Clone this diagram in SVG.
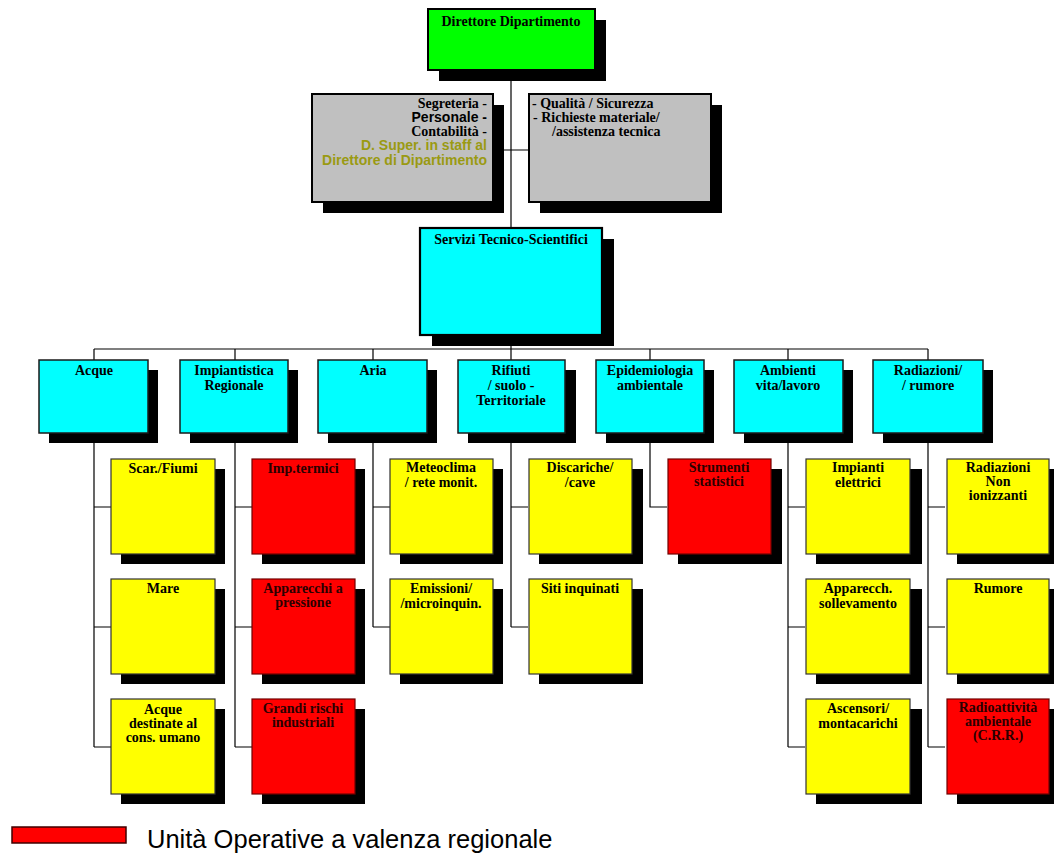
<svg xmlns="http://www.w3.org/2000/svg" width="1054" height="854" viewBox="0 0 1054 854">
  <style>
    .sh { fill: #000; }
    .gr { fill: #00ff00; stroke: #000; stroke-width: 2; }
    .gy { fill: #c0c0c0; stroke: #000; stroke-width: 2; }
    .cy { fill: #00ffff; stroke: #1a1a1a; stroke-width: 1.5; }
    .cyb { fill: #00ffff; stroke: #000; stroke-width: 2.2; }
    .ye { fill: #ffff00; stroke: #333; stroke-width: 1.2; }
    .rd { fill: #ff0000; stroke: #700000; stroke-width: 1.2; }
    .ln { stroke: #000; stroke-width: 1.2; fill: none; }
    .t { font-family: "Liberation Serif", "Times New Roman", serif; font-weight: bold; font-size: 14px; text-anchor: middle; fill: #000; }
    .tr { fill: #2a0000; }
    .s { font-family: "Liberation Sans", Arial, sans-serif; font-weight: bold; font-size: 14px; }
    .ol { fill: #9a9a12; }
    .lg { font-family: "Liberation Sans", Arial, sans-serif; font-size: 25.5px; fill: #000; }
  </style>

  <!-- connectors -->
  <g id="connectors">
    <line class="ln" x1="511" y1="70" x2="511" y2="349"/>
    <line class="ln" x1="493" y1="150" x2="529" y2="150"/>
    <line class="ln" x1="94" y1="349" x2="928" y2="349"/>
    <path class="ln" d="M94 349V360M235 349V360M373 349V360M511 349V360M650 349V360M788 349V360M928 349V360"/>
    <!-- Acque -->
    <path class="ln" d="M94 433V747M94 507H111M94 627H111M94 747H111"/>
    <!-- Impiantistica -->
    <path class="ln" d="M235 433V747M235 507H252M235 627H252M235 747H252"/>
    <!-- Aria -->
    <path class="ln" d="M373 433V627M373 507H390M373 627H390"/>
    <!-- Rifiuti -->
    <path class="ln" d="M511 433V627M511 507H528M511 627H528"/>
    <!-- Epidemiologia -->
    <path class="ln" d="M650 433V507H667"/>
    <!-- Ambienti -->
    <path class="ln" d="M788 433V747M788 507H805M788 627H805M788 747H805"/>
    <!-- Radiazioni -->
    <path class="ln" d="M928 433V747M928 507H945M928 627H945M928 747H945"/>
  </g>

  <!-- top level -->
  <g id="direttore">
    <rect class="sh" x="439" y="20" width="167" height="61"/>
    <rect class="gr" x="428" y="9" width="167" height="61"/>
    <text class="t" x="511" y="26">Direttore Dipartimento</text>
  </g>

  <g id="staff">
    <rect class="sh" x="323" y="105" width="181" height="108"/>
    <rect class="gy" x="312" y="94" width="181" height="108"/>
    <text class="t" style="text-anchor:end" x="487" y="108">Segreteria -</text>
    <text class="t s" style="text-anchor:end" x="487" y="122">Personale -</text>
    <text class="t" style="text-anchor:end" x="487" y="136">Contabilità -</text>
    <text class="t s ol" style="text-anchor:end" x="487" y="150">D. Super. in staff al</text>
    <text class="t s ol" style="text-anchor:end" x="487" y="165">Direttore di Dipartimento</text>
  </g>

  <g id="qualita">
    <rect class="sh" x="540" y="105" width="182" height="108"/>
    <rect class="gy" x="529" y="94" width="182" height="108"/>
    <text class="t" style="text-anchor:start" x="532" y="108">- Qualità / Sicurezza</text>
    <text class="t" style="text-anchor:start" x="533" y="122">- Richieste materiale/</text>
    <text class="t" style="text-anchor:start" x="552" y="136">/assistenza tecnica</text>
  </g>

  <g id="servizi">
    <rect class="sh" x="432" y="239" width="182" height="107"/>
    <rect class="cyb" x="420" y="228" width="182" height="107"/>
    <text class="t" x="511" y="244">Servizi Tecnico-Scientifici</text>
  </g>

  <!-- area headers -->
  <g id="acque">
    <rect class="sh" x="49" y="370" width="109" height="73"/>
    <rect class="cy" x="39" y="360" width="109" height="73"/>
    <text class="t" x="94" y="375">Acque</text>
  </g>
  <g id="impiantistica">
    <rect class="sh" x="190" y="370" width="108" height="73"/>
    <rect class="cy" x="180" y="360" width="108" height="73"/>
    <text class="t" x="234" y="375"><tspan x="234">Impiantistica</tspan><tspan x="234" dy="15">Regionale</tspan></text>
  </g>
  <g id="aria">
    <rect class="sh" x="328" y="370" width="109" height="73"/>
    <rect class="cy" x="318" y="360" width="109" height="73"/>
    <text class="t" x="373" y="375">Aria</text>
  </g>
  <g id="rifiuti">
    <rect class="sh" x="468" y="370" width="108" height="73"/>
    <rect class="cy" x="458" y="360" width="107" height="73"/>
    <text class="t" x="511" y="375"><tspan x="511">Rifiuti</tspan><tspan x="511" dy="15">/ suolo -</tspan><tspan x="511" dy="15">Territoriale</tspan></text>
  </g>
  <g id="epidemiologia">
    <rect class="sh" x="606" y="370" width="108" height="73"/>
    <rect class="cy" x="596" y="360" width="108" height="73"/>
    <text class="t" x="650" y="375"><tspan x="650">Epidemiologia</tspan><tspan x="650" dy="15">ambientale</tspan></text>
  </g>
  <g id="ambienti">
    <rect class="sh" x="744" y="370" width="109" height="73"/>
    <rect class="cy" x="734" y="360" width="109" height="73"/>
    <text class="t" x="788" y="375"><tspan x="788">Ambienti</tspan><tspan x="788" dy="15">vita/lavoro</tspan></text>
  </g>
  <g id="radiazioni">
    <rect class="sh" x="883" y="370" width="110" height="73"/>
    <rect class="cy" x="873" y="360" width="110" height="73"/>
    <text class="t" x="928" y="375"><tspan x="928">Radiazioni/</tspan><tspan x="928" dy="15">/ rumore</tspan></text>
  </g>

  <!-- Acque units -->
  <g id="scar-fiumi">
    <rect class="sh" x="121" y="469" width="104" height="95"/>
    <rect class="ye" x="111" y="459" width="104" height="95"/>
    <text class="t" x="163" y="473">Scar./Fiumi</text>
  </g>
  <g id="mare">
    <rect class="sh" x="121" y="589" width="104" height="95"/>
    <rect class="ye" x="111" y="579" width="104" height="95"/>
    <text class="t" x="163" y="593">Mare</text>
  </g>
  <g id="acque-consumo">
    <rect class="sh" x="121" y="709" width="104" height="95"/>
    <rect class="ye" x="111" y="699" width="104" height="95"/>
    <text class="t" x="163" y="714"><tspan x="163">Acque</tspan><tspan x="163" dy="14">destinate al</tspan><tspan x="163" dy="14">cons. umano</tspan></text>
  </g>

  <!-- Impiantistica units -->
  <g id="imp-termici">
    <rect class="sh" x="262" y="469" width="103" height="95"/>
    <rect class="rd" x="252" y="459" width="103" height="95"/>
    <text class="t tr" x="303" y="473">Imp.termici</text>
  </g>
  <g id="apparecchi-pressione">
    <rect class="sh" x="262" y="589" width="103" height="95"/>
    <rect class="rd" x="252" y="579" width="103" height="95"/>
    <text class="t tr" x="303" y="593"><tspan x="303">Apparecchi a</tspan><tspan x="303" dy="14">pressione</tspan></text>
  </g>
  <g id="grandi-rischi">
    <rect class="sh" x="262" y="709" width="103" height="95"/>
    <rect class="rd" x="252" y="699" width="103" height="95"/>
    <text class="t tr" x="303" y="713"><tspan x="303">Grandi rischi</tspan><tspan x="303" dy="14">industriali</tspan></text>
  </g>

  <!-- Aria units -->
  <g id="meteoclima">
    <rect class="sh" x="400" y="469" width="103" height="95"/>
    <rect class="ye" x="390" y="459" width="103" height="95"/>
    <text class="t" x="441" y="472"><tspan x="441">Meteoclima</tspan><tspan x="441" dy="15">/ rete monit.</tspan></text>
  </g>
  <g id="emissioni">
    <rect class="sh" x="400" y="589" width="103" height="95"/>
    <rect class="ye" x="390" y="579" width="103" height="95"/>
    <text class="t" x="441" y="593"><tspan x="441">Emissioni/</tspan><tspan x="441" dy="15">/microinquin.</tspan></text>
  </g>

  <!-- Rifiuti units -->
  <g id="discariche">
    <rect class="sh" x="539" y="469" width="104" height="95"/>
    <rect class="ye" x="529" y="459" width="103" height="95"/>
    <text class="t" x="580" y="472"><tspan x="580">Discariche/</tspan><tspan x="580" dy="15">/cave</tspan></text>
  </g>
  <g id="siti-inquinati">
    <rect class="sh" x="539" y="589" width="104" height="95"/>
    <rect class="ye" x="529" y="579" width="103" height="95"/>
    <text class="t" x="580" y="593">Siti inquinati</text>
  </g>

  <!-- Epidemiologia units -->
  <g id="strumenti-statistici">
    <rect class="sh" x="678" y="469" width="104" height="95"/>
    <rect class="rd" x="668" y="459" width="103" height="95"/>
    <text class="t tr" x="719" y="472"><tspan x="719">Strumenti</tspan><tspan x="719" dy="14">statistici</tspan></text>
  </g>

  <!-- Ambienti units -->
  <g id="impianti-elettrici">
    <rect class="sh" x="816" y="469" width="106" height="95"/>
    <rect class="ye" x="806" y="459" width="104" height="95"/>
    <text class="t" x="858" y="472"><tspan x="858">Impianti</tspan><tspan x="858" dy="15">elettrici</tspan></text>
  </g>
  <g id="apparecch-sollevamento">
    <rect class="sh" x="816" y="589" width="106" height="95"/>
    <rect class="ye" x="806" y="579" width="104" height="95"/>
    <text class="t" x="858" y="593"><tspan x="858">Apparecch.</tspan><tspan x="858" dy="15">sollevamento</tspan></text>
  </g>
  <g id="ascensori">
    <rect class="sh" x="816" y="709" width="106" height="95"/>
    <rect class="ye" x="806" y="699" width="104" height="95"/>
    <text class="t" x="858" y="713"><tspan x="858">Ascensori/</tspan><tspan x="858" dy="15">montacarichi</tspan></text>
  </g>

  <!-- Radiazioni units -->
  <g id="radiazioni-non-ionizzanti">
    <rect class="sh" x="957" y="469" width="103" height="95"/>
    <rect class="ye" x="947" y="459" width="102" height="95"/>
    <text class="t" x="998" y="472"><tspan x="998">Radiazioni</tspan><tspan x="998" dy="14">Non</tspan><tspan x="998" dy="14">ionizzanti</tspan></text>
  </g>
  <g id="rumore">
    <rect class="sh" x="957" y="589" width="103" height="95"/>
    <rect class="ye" x="947" y="579" width="102" height="95"/>
    <text class="t" x="998" y="593">Rumore</text>
  </g>
  <g id="radioattivita">
    <rect class="sh" x="957" y="709" width="103" height="95"/>
    <rect class="rd" x="947" y="699" width="102" height="95"/>
    <text class="t tr" x="998" y="712"><tspan x="998">Radioattività</tspan><tspan x="998" dy="14">ambientale</tspan><tspan x="998" dy="14">(C.R.R.)</tspan></text>
  </g>

  <!-- legend -->
  <g id="legenda">
    <rect x="12" y="827" width="114" height="16" fill="#ff0000" stroke="#400000" stroke-width="1.5"/>
    <text class="lg" x="147" y="848">Unità Operative a valenza regionale</text>
  </g>
</svg>
